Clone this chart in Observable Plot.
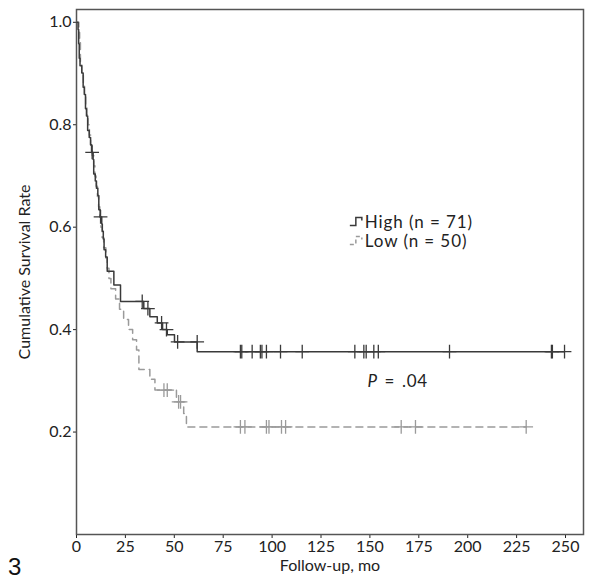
<!DOCTYPE html>
<html><head><meta charset="utf-8">
<script src="https://cdn.jsdelivr.net/npm/d3@7"></script>
<script src="https://cdn.jsdelivr.net/npm/@observablehq/plot@0.6"></script>
<style>
body{margin:0;background:#fff;}
#chart{width:602px;height:579px;}
</style></head><body><div id="chart"></div>
<script>
// ---- data ----
const highTime = [0,0.8,1.1,1.4,1.8,2.7,3.4,4.0,4.6,5.1,5.7,6.5,7.2,7.7,8.5,8.8,9.6,10.2,10.9,11.4,12.1,12.9,13.2,13.7,14.1,14.9,15.7,19.1,22.5,34.4,37.5,41.3,44.0,46.4,50.1,61.7,249.5];
const highSurv = [1.0,0.986,0.958,0.930,0.915,0.901,0.873,0.859,0.831,0.817,0.789,0.775,0.761,0.746,0.732,0.704,0.690,0.676,0.662,0.634,0.620,0.606,0.592,0.577,0.556,0.542,0.514,0.487,0.455,0.441,0.425,0.413,0.400,0.390,0.376,0.357,0.357];
const highCensorTime = [8.0,12.3,33.6,36.5,43.5,46.0,51.7,61.7,83.8,84.5,89.8,94.0,94.8,97.1,104.3,115.4,142.3,146.9,148.1,152.0,154.3,190.7,242.8,243.3,249.5];
const highCensorSurv = [0.746,0.620,0.455,0.441,0.413,0.400,0.376,0.376,0.357,0.357,0.357,0.357,0.357,0.357,0.357,0.357,0.357,0.357,0.357,0.357,0.357,0.357,0.357,0.357,0.357];

const lowTime = [0,1.2,1.6,2.0,2.7,3.5,4.1,4.7,5.3,5.9,6.6,7.2,8.0,8.8,9.4,10.0,10.7,11.3,11.9,12.5,13.1,13.9,15.0,15.7,16.6,17.6,20.0,22.0,24.1,26.6,28.7,30.7,31.9,37.5,40.1,51.1,54.8,56.2,229.9];
const lowSurv = [1.0,0.98,0.96,0.92,0.90,0.88,0.86,0.84,0.82,0.80,0.78,0.76,0.74,0.72,0.70,0.68,0.66,0.64,0.62,0.60,0.58,0.56,0.54,0.52,0.50,0.48,0.46,0.44,0.42,0.40,0.38,0.36,0.322,0.303,0.282,0.259,0.236,0.210,0.210];
const lowCensorTime = [44.7,46.4,52.2,53.2,83.8,86.1,97.1,98.4,104.8,106.9,166.0,173.3,229.9];
const lowCensorSurv = [0.282,0.282,0.259,0.259,0.210,0.210,0.210,0.210,0.210,0.210,0.210,0.210,0.210];

const xTicks = [0,25,50,75,100,125,150,175,200,225,250];
const yTicks = [0.2,0.4,0.6,0.8,1.0];
const groupNames = ["High (n = 71)","Low (n = 50)"];
const pValueText = ["P", "=", ".04"];
const panelLabel = "3";

// ---- build ----
const high = highTime.map((t,i)=>({t, s: highSurv[i]}));
const low = lowTime.map((t,i)=>({t, s: lowSurv[i]}));
const highC = highCensorTime.map((t,i)=>({t, s: highCensorSurv[i]}));
const lowC = lowCensorTime.map((t,i)=>({t, s: lowCensorSurv[i]}));

const FONT = "Lato, 'Open Sans', sans-serif";
const dark = "#3a3a3a", light = "#9a9a9a";

const plot = Plot.plot({
  width: 602, height: 579,
  marginLeft: 76, marginRight: 19, marginTop: 9, marginBottom: 45,
  style: {fontFamily: FONT, fontSize: "16px", color: "#222", background: "#fff", overflow: "visible"},
  x: {domain: [0, 259.2], ticks: xTicks, tickSize: 4, tickPadding: 2, label: "Follow-up, mo", labelAnchor: "center", labelOffset: 36, labelArrow: "none"},
  y: {domain: [0, 1.025], ticks: yTicks, tickFormat: d3.format(".1f"), tickSize: 3, tickPadding: 2, label: "Cumulative Survival Rate", labelAnchor: "center", labelOffset: 58, labelArrow: "none"},
  marks: [
    Plot.frame({stroke: "#555", strokeWidth: 1.5}),
    Plot.line(low, {x: "t", y: "s", curve: "step-after", stroke: light, strokeWidth: 1.5, strokeDasharray: "7,5"}),
    Plot.line(high, {x: "t", y: "s", curve: "step-after", stroke: dark, strokeWidth: 1.5}),
    Plot.dot(lowC, {x: "t", y: "s", symbol: "plus", r: 4.5, stroke: light, strokeWidth: 1.3}),
    Plot.dot(highC, {x: "t", y: "s", symbol: "plus", r: 4.5, stroke: dark, strokeWidth: 1.3})
  ]
});
document.getElementById("chart").appendChild(plot);

const svg = d3.select(plot);
const xs = plot.scale("x"), ys = plot.scale("y");

// P value annotation
const pt = svg.append("text")
  .attr("x", xs.apply(149)).attr("y", ys.apply(0.287))
  .attr("text-anchor", "start")
  .style("font-family", FONT).style("font-size", "17px").style("letter-spacing", "0.6px").attr("fill", "#222");
pt.append("tspan").style("font-style", "italic").text(pValueText[0]);
pt.append("tspan").attr("dx", 7).text(pValueText[1]);
pt.append("tspan").attr("dx", 7).text(pValueText[2]);

// legend
const lx = xs.apply(140), ly = ys.apply(0.618);
const lg = svg.append("g").attr("transform", `translate(${lx},${ly})`);
lg.append("path").attr("d", "M0,8H6V0H12V3").attr("fill", "none").attr("stroke", dark).attr("stroke-width", 1.5);
lg.append("path").attr("d", "M0,27H6V19H12V22").attr("fill", "none").attr("stroke", light).attr("stroke-width", 1.5).attr("stroke-dasharray", "4,3");
groupNames.forEach((name, i) => {
  lg.append("text").attr("x", 15).attr("y", 11 + i * 19).attr("text-anchor", "start")
    .style("font-family", FONT).style("font-size", "17px").style("letter-spacing", "0.9px").attr("fill", "#222").text(name);
});

// panel label
svg.append("text").attr("x", 8).attr("y", 575).attr("text-anchor", "start")
  .style("font-family", "'Liberation Sans', Arial, sans-serif").style("font-size", "24px").attr("fill", "#111")
  .text(panelLabel);
</script>
</body></html>
